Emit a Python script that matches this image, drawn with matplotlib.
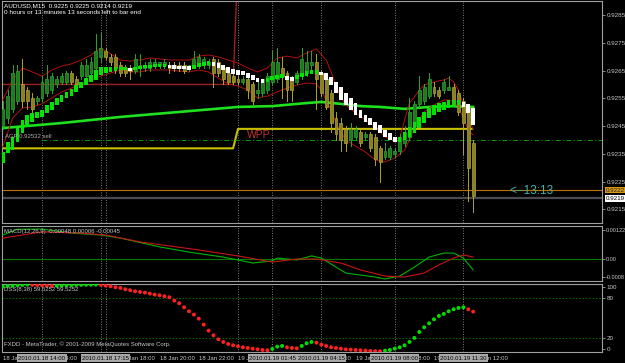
import matplotlib
matplotlib.use('Agg')
import matplotlib.pyplot as plt
from matplotlib.patches import Rectangle

# ---------------- data ----------------
opens = [.9245,.9248,.9251,.9254,.9260,.9258,.9255,.9254,.9255,.9257,
         .9258,.9260,.9261,.9261,.9264,.9262,.9263,.9263,.9264,.9266,
         .9270,.9272,.9270,.9270,.9267,.9266,.9266,.9265,.9266,.9266,
         .9266,.9267,.9267,.9267,.9267,.9267,.9267,.9267,.9266,.9267,
         .9267,.9267,.9267,.9269,.9268,.9266,.9264,.9263,.9262,.9261,
         .9262,.9260,.9257,.9257,.9258,.9261,.9262,.9266,.9264,.9262,
         .9261,.9263,.9264,.9267,.9268,.9264,.9262,.9257,.9248,.9246,
         .9244,.9240,.9241,.9243,.9241,.9242,.9241,.9237,.9234,.9234,
         .9235,.9236,.9239,.9241,.9245,.9253,.9254,.9256,.9259,.9258,
         .9258,.9258,.9259,.9257,.9254,.9252,.9239]
highs = [.9254,.9258,.9267,.9267,.9269,.9259,.9257,.9256,.9263,.9267,
         .9264,.9263,.9264,.9265,.9265,.9263,.9268,.9269,.9270,.9278,
         .9279,.9273,.9271,.9271,.9268,.9267,.9267,.9271,.9271,.9268,
         .9269,.9269,.9268,.9269,.9268,.9268,.9268,.9268,.9267,.9272,
         .9271,.9270,.9269,.9270,.9269,.9267,.9265,.9264,.9263,.9263,
         .9263,.9261,.9262,.9262,.9264,.9272,.9273,.9270,.9265,.9263,
         .9265,.9273,.9272,.9272,.9271,.9265,.9263,.9258,.9250,.9248,
         .9245,.9246,.9245,.9244,.9243,.9243,.9242,.9238,.9239,.9238,
         .9237,.9242,.9245,.9255,.9254,.9263,.9260,.9264,.9261,.9259,
         .9262,.9263,.9260,.9258,.9255,.9253,.9240]
lows = [.9244,.9246,.9250,.9253,.9252,.9251,.9250,.9253,.9254,.9256,
        .9257,.9259,.9260,.9260,.9260,.9259,.9262,.9262,.9263,.9265,
        .9268,.9269,.9267,.9264,.9263,.9263,.9262,.9264,.9263,.9265,
        .9265,.9266,.9266,.9266,.9264,.9265,.9265,.9264,.9265,.9266,
        .9266,.9266,.9266,.9259,.9263,.9260,.9260,.9260,.9260,.9260,
        .9255,.9253,.9255,.9256,.9257,.9260,.9261,.9255,.9254,.9254,
        .9260,.9262,.9263,.9265,.9251,.9256,.9251,.9243,.9240,.9236,
        .9236,.9238,.9240,.9238,.9240,.9236,.9231,.9225,.9233,.9233,
        .9234,.9235,.9238,.9240,.9244,.9252,.9253,.9255,.9256,.9255,
        .9257,.9258,.9253,.9249,.9235,.9218,.9214]
closes = [.9251,.9256,.9264,.9265,.9254,.9254,.9251,.9255,.9261,.9262,
          .9263,.9262,.9263,.9264,.9261,.9260,.9267,.9267,.9268,.9272,
          .9273,.9270,.9268,.9266,.9264,.9264,.9265,.9269,.9267,.9267,
          .9268,.9268,.9268,.9268,.9266,.9266,.9266,.9265,.9267,.9269,
          .9270,.9269,.9268,.9264,.9264,.9262,.9261,.9261,.9261,.9262,
          .9258,.9254,.9258,.9262,.9263,.9268,.9268,.9263,.9258,.9258,
          .9264,.9269,.9268,.9268,.9262,.9257,.9252,.9246,.9242,.9240,
          .9239,.9244,.9244,.9239,.9242,.9237,.9233,.9232,.9236,.9237,
          .9236,.9241,.9243,.9250,.9253,.9258,.9259,.9262,.9257,.9256,
          .9261,.9259,.9253,.9250,.9246,.9230,.9220]

ha_open = [.92317,.92353,.92364,.92393,.92425,.92447,.92465,.92479,.92483,.92497,
           .92508,.92526,.92537,.92551,.92558,.92573,.92587,.92598,.92609,.92616,
           .92634,.92641,.92645,.92648,.92652,.92652,.92659,.92652,.92656,.92659,
           .92659,.92663,.92663,.92663,.92670,.92670,.92666,.92666,.92666,.92656,
           .92663,.92666,.92670,.92681,.92677,.92670,.92663,.92656,.92652,.92648,
           .92641,.92634,.92623,.92620,.92609,.92616,.92620,.92623,.92630,.92627,
           .92620,.92627,.92630,.92638,.92638,.92645,.92641,.92627,.92609,.92591,
           .92569,.92551,.92533,.92508,.92490,.92479,.92465,.92454,.92436,.92425,
           .92411,.92393,.92400,.92411,.92425,.92443,.92461,.92479,.92490,.92501,
           .92508,.92515,.92519,.92526,.92537,.92530,.92515]
ha_close = [.92357,.92393,.92411,.92443,.92472,.92490,.92497,.92501,.92508,.92526,
            .92537,.92551,.92562,.92573,.92584,.92598,.92609,.92623,.92634,.92652,
            .92663,.92663,.92663,.92663,.92663,.92663,.92648,.92663,.92666,.92670,
            .92670,.92674,.92674,.92674,.92659,.92656,.92656,.92656,.92652,.92670,
            .92677,.92681,.92684,.92666,.92659,.92652,.92641,.92638,.92634,.92634,
            .92623,.92616,.92609,.92605,.92623,.92630,.92634,.92638,.92616,.92612,
            .92634,.92641,.92648,.92652,.92652,.92634,.92616,.92598,.92569,.92544,
            .92526,.92508,.92490,.92479,.92465,.92454,.92436,.92425,.92411,.92400,
            .92393,.92411,.92429,.92447,.92465,.92483,.92501,.92515,.92526,.92533,
            .92537,.92544,.92544,.92544,.92519,.92497,.92454]

bb_up_bars = [0,2,4,6,8,10,12,14,16,18,20,22,24,26,28,30,32,34,36,38,40,42,44,46,48,
              50,52,54,56,58,60,62,64,66,67,68,69,70,72,74,76,78,80,81,82,83,84,85,86,
              88,90,91,92,93,94,95,96]
bb_up = [.92544,.92616,.92659,.92645,.92630,.92652,.92666,.92674,.92688,.92706,.92731,
         .92710,.92688,.92684,.92688,.92695,.92692,.92688,.92688,.92688,.92702,.92706,
         .92699,.92688,.92677,.92659,.92645,.92659,.92695,.92702,.92695,.92713,.92728,
         .92688,.92645,.92598,.92555,.92526,.92497,.92472,.92447,.92411,.92400,.92407,
         .92472,.92533,.92555,.92580,.92598,.92609,.92616,.92623,.92609,.92580,.92526,
         .92483,.92436]
bb_lo_bars = [0,2,4,6,8,10,12,14,16,18,20,22,24,26,28,30,32,34,36,38,40,42,44,46,48,
              50,52,54,56,58,60,62,64,65,66,67,68,69,70,72,74,76,78,80,82,83,84,86,88,
              90,91,92,93,94,95,96]
bb_lo = [.92375,.92479,.92515,.92519,.92530,.92551,.92573,.92587,.92602,.92616,.92630,
         .92641,.92652,.92645,.92645,.92652,.92652,.92652,.92648,.92645,.92652,.92645,
         .92623,.92602,.92594,.92580,.92551,.92558,.92573,.92587,.92598,.92605,.92602,
         .92580,.92544,.92508,.92461,.92429,.92400,.92378,.92357,.92328,.92321,.92335,
         .92364,.92400,.92447,.92501,.92526,.92544,.92544,.92537,.92519,.92479,.92436,
         .92418]

ma_bars = [0, 12, 24, 36, 48, 55, 62, 65, 69, 73, 77, 82, 87, 91, 96]
ma_vals = [.92443, .92461, .92483, .92501, .92519, .92522, .92533, .92537, .92530,
           .92522, .92519, .92512, .92519, .92522, .92519]

day_start = [0, 48]
wpp_levels = [0.9237, 0.9244]
prev_levels = [0.9260, 0.9305]
sell_level = 0.9240
orange_level = 0.9222
last_price = 0.9219

macd_bars = [0, 3, 8, 14, 20, 24, 32, 38, 45, 48, 51, 55, 56, 60, 63, 65, 68, 70,
             76, 78, 81, 84, 87, 90, 92, 94, 96]
macd_main = [0.00101, 0.00125, 0.00126, 0.00109, 0.00101, 0.00088, 0.00051, 0.00029,
             0.00008, -0.00004, -0.00017, -0.00008, 0.00004, -0.00004, 0.00013, 0.00004,
             -0.00034, -0.00059, -0.00076, -0.00084, -0.00072, -0.00034, 0.00008,
             0.00025, 0.00025, 0.00004, -0.00046]
sig_bars = [0, 4, 8, 16, 21, 28, 40, 48, 55, 60, 64, 69, 73, 78, 82, 86, 89, 92, 94, 96]
macd_signal = [0.00088, 0.00101, 0.00114, 0.00109, 0.00101, 0.00072, 0.00038, 0.00013,
               -0.00013, 0.0, 0.0, -0.00017, -0.00046, -0.00072, -0.00076, -0.00059,
               -0.00025, 0.00004, 0.00017, 0.00008]

dss = [97, 98, 98.5, 99, 99.5, 100, 99.6, 99.2, 98.8, 98.4,
       98, 98.3, 98.6, 98.9, 99.2, 99.5, 99.7, 99.8, 99.9, 100,
       99.5, 98.5, 97.5, 96, 95, 93, 91.5, 90, 89, 88,
       86.5, 85, 84, 82.5, 81, 76, 72, 66, 60, 55,
       49, 40, 31, 24, 18, 14, 11, 9, 7.5, 6,
       5, 4, 3, 2, 1.5, 3.5, 7, 8, 6, 5,
       4.5, 8, 12, 14, 13, 10, 8, 6, 5, 4,
       3, 2.5, 2, 1.5, 1, 0.5, 0.2, 0, 1, 2,
       4, 6, 9, 14, 20, 29, 36, 42, 48, 53,
       56, 60, 63, 65, 66, 63, 59.5]

price_ticks = [0.9285, 0.9275, 0.9265, 0.9255, 0.9245, 0.9235, 0.9225, 0.9215]
time_label_bars = [0, 8, 16, 24, 32, 40, 48, 56, 64, 72, 80, 88, 96]
time_labels = ['18 Jan 2010', '18 Jan 14:00', '18 Jan 16:00', '18 Jan 18:00',
               '18 Jan 20:00', '18 Jan 22:00', '19 Jan 00:00', '19 Jan 02:00',
               '19 Jan 04:00', '19 Jan 06:00', '19 Jan 08:00', '19 Jan 10:00',
               '19 Jan 12:00']
marker_bars = [8, 21, 55, 65, 80, 94]
marker_labels = ['2010.01.18 14:00', '2010.01.18 17:15', '2010.01.19 01:45',
                 '2010.01.19 04:15', '2010.01.19 08:00', '2010.01.19 11:30']
vline_bars = [8, 20, 21, 48, 55, 65, 80, 94]

# ---------------- figure ----------------
plt.rcParams['font.family'] = ['Liberation Sans', 'DejaVu Sans']
W, H = 625, 363
fig = plt.figure(figsize=(W / 100, H / 100), dpi=100, facecolor='black')


def rect(x0, y0, x1, y1):
    return [x0 / W, 1 - y1 / H, (x1 - x0) / W, (y1 - y0) / H]


ax = fig.add_axes(rect(2, 1, 602, 223))
axm = fig.add_axes(rect(2, 226, 602, 281))
axd = fig.add_axes(rect(2, 284, 602, 352))

XL = (-0.163, 122.29)
FG = '#c8c8c8'
for a in (ax, axm, axd):
    a.set_facecolor('black')
    a.set_xlim(*XL)
    a.set_xticks([])
    for s in a.spines.values():
        s.set_color('#a0a0a0')
        s.set_linewidth(0.8)
    a.yaxis.tick_right()
    a.tick_params(axis='y', colors='#a0a0a0', labelcolor=FG, labelsize=4.5,
                  length=2, width=0.6, pad=1.2)
    for b in vline_bars:
        a.axvline(b, color='#8a8a8a', lw=0.6, ls=(0, (1.2, 1.8)), zorder=1)

# main panel
ax.set_ylim(0.921012, 0.929004)
ax.set_yticks(price_ticks)
ax.set_yticklabels(['%.4f' % t for t in price_ticks])

n = len(closes)
# pivot step lines
for lev, col, lw in ((wpp_levels, '#c8c000', 1.5), (prev_levels, '#a02020', 1.0)):
    xs, ys = [], []
    for k, st in enumerate(day_start):
        en = day_start[k + 1] - 1 if k + 1 < len(day_start) else n - 1
        xs += [st, en]
        ys += [lev[k], lev[k]]
    ax.plot(xs, ys, color=col, lw=lw, zorder=2, solid_capstyle='butt')

ax.axhline(orange_level, color='#c07000', lw=0.8, zorder=2)
ax.axhline(last_price, color='#4a4a52', lw=1.6, zorder=2)
ax.plot([8, XL[1]], [sell_level, sell_level], color='#00a000', lw=0.7,
        ls=(0, (5, 2.5, 1, 2.5)), zorder=2)

ax.plot(ma_bars, ma_vals, color='#1ee01e', lw=1.9, zorder=3)
ax.plot(bb_up_bars, bb_up, color='#b01010', lw=0.7, zorder=3)
ax.plot(bb_lo_bars, bb_lo, color='#b01010', lw=0.7, zorder=3)

for i, (o, h, l, c) in enumerate(zip(opens, highs, lows, closes)):
    up = c >= o
    edge = '#2fa52f' if up else '#b0a431'
    body = '#1d7a1d' if up else '#8a8222'
    ax.plot([i, i], [l, h], color=edge, lw=0.7, zorder=4)
    lo, hi = min(o, c), max(o, c)
    if hi - lo < 0.00004:
        mid = (hi + lo) / 2
        lo, hi = mid - 0.00002, mid + 0.00002
    ax.add_patch(Rectangle((i - 0.3, lo), 0.6, hi - lo, facecolor=body,
                           edgecolor=edge, lw=0.5, zorder=5))

for i, (o, c) in enumerate(zip(ha_open, ha_close)):
    col = '#00e400' if c >= o else '#ffffff'
    lo, hi = min(o, c), max(o, c)
    if hi - lo < 0.0001:
        mid = (hi + lo) / 2
        lo, hi = mid - 0.00005, mid + 0.00005
    ax.add_patch(Rectangle((i - 0.37, lo), 0.74, hi - lo, facecolor=col,
                           edgecolor='none', zorder=6))

# price boxes on right
for val, fc, tc in ((orange_level, '#d89a10', '#202020'), (last_price, '#ffffff', '#000000')):
    ax.annotate('%.4f' % val, xy=(1.0, val), xycoords=('axes fraction', 'data'),
                xytext=(3, 0), textcoords='offset points', fontsize=4.5, color=tc,
                va='center', ha='left',
                bbox=dict(boxstyle='square,pad=0.15', fc=fc, ec='none'))

# main texts
def ftext(x, y, s, **kw):
    fig.text(x / W, 1 - y / H, s, va='center', ha='left', **kw)


ftext(4, 5.5, 'AUDUSD,M15  0.9225 0.9225 0.9214 0.9219', fontsize=4.6, color='white')
ftext(4, 12.5, '0 hours or 13 minutes 13 seconds left to bar end', fontsize=4.6, color='white')
ftext(5, 137, 'AGP 0.92532 sell', fontsize=4.3, color='#b0b0b0')
ftext(247, 135, 'WPP', fontsize=7.5, color='#c03030')
ftext(509, 190.5, '<--13:13', fontsize=8.5, color='#3cb4b4')

# MACD panel
axm.set_ylim(-0.000926, 0.001389)
axm.axhline(0, color='#007a00', lw=0.8, zorder=2)
axm.plot(macd_bars, macd_main, color='#00b400', lw=0.8, zorder=3)
axm.plot(sig_bars, macd_signal, color='#c81414', lw=0.8, zorder=3)
axm.set_yticks([0.00122, 0.0, -0.00076])
axm.set_yticklabels(['0.00122', '0.00', '-0.0008'])
axm.tick_params(axis='y', labelsize=4.0, pad=1.0)
ftext(4, 231, 'MACD(12,26,9) -0.00048 0.00006 -0.00045', fontsize=4.3, color=FG)

# DSS panel
axd.set_ylim(-1.05, 100.9)
for lv in (80, 20):
    axd.axhline(lv, color='#008000', lw=0.6, ls=(0, (2, 2)), zorder=1)
cols = []
for i, v in enumerate(dss):
    cols.append('#00e000' if (i == 0 or v >= dss[i - 1]) else '#ff2020')
axd.scatter(range(len(dss)), dss, s=8, c=cols, marker='o', linewidths=0, zorder=3)
axd.set_yticks([96.4, 80, 20, 3.4])
axd.set_yticklabels(['100', '80', '20', '0'])
ftext(4, 289.5, 'DSS(8,38) 59.5252 59.5252', fontsize=4.3, color=FG)
ftext(4, 344.5, 'FXDD - MetaTrader, \u00a9 2001-2009 MetaQuotes Software Corp.',
      fontsize=4.3, color=FG)

# time axis labels
tr = axd.get_xaxis_transform()
for b, s in zip(time_label_bars, time_labels):
    axd.text(b, -0.09, s, transform=tr, fontsize=4.3, color=FG, ha='left',
             va='center', clip_on=False, zorder=5)
for b, s in zip(marker_bars, marker_labels):
    axd.text(b, -0.09, s, transform=tr, fontsize=4.3, color='#000000', ha='center',
             va='center', clip_on=False, zorder=6,
             bbox=dict(boxstyle='square,pad=0.2', fc='#a8a8a8', ec='none'))

fig.savefig('out.png', dpi=100, facecolor='black')
